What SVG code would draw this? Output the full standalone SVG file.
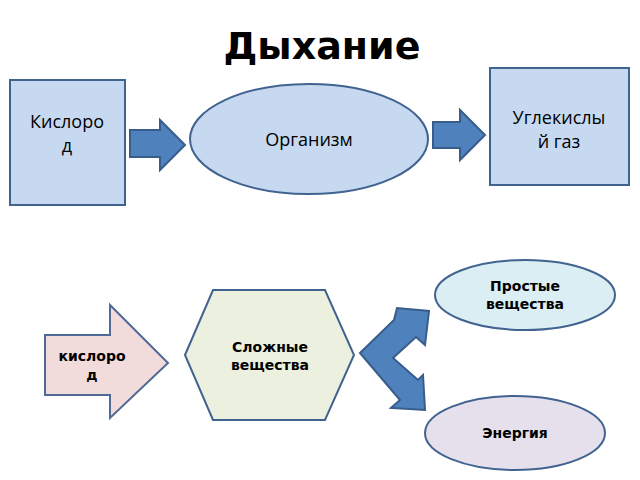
<svg xmlns="http://www.w3.org/2000/svg" width="640" height="480" viewBox="0 0 640 480">
<style>
.s{stroke:#41638f;stroke-width:2}
.t{font-family:"Open Sans","DejaVu Sans",sans-serif;font-size:18px;fill:#000;text-anchor:middle}
.b{font-family:"DejaVu Sans",sans-serif;font-size:14px;font-weight:bold;fill:#000;text-anchor:middle}
.ar{fill:#4f81bd;stroke:#385d8a;stroke-width:2}
</style>
<rect width="640" height="480" fill="#fff"/>
<text x="322" y="59" font-family="DejaVu Sans,sans-serif" font-size="38" font-weight="bold" text-anchor="middle">Дыхание</text>
<g id="kislorod"><rect x="10" y="80" width="115" height="125" fill="#c6d9f1" class="s"/><text class="t" x="67" y="128">Кислоро</text><text class="t" x="67" y="152">д</text></g>
<g id="organizm"><ellipse cx="309" cy="139" rx="119" ry="55" fill="#c6d9f1" class="s"/><text class="t" x="309" y="146">Организм</text></g>
<g id="ugl"><rect x="490" y="68" width="139" height="117" fill="#c6d9f1" class="s"/><text class="t" x="559" y="124">Углекислы</text><text class="t" x="559" y="148">й газ</text></g>
<g id="hex"><polygon points="185,355 213,290 325,290 354,355 325,420 213,420" fill="#ebf1de" class="s"/><text class="b" x="270" y="352">Сложные</text><text class="b" x="270" y="370">вещества</text></g>
<g id="prostye"><ellipse cx="525" cy="295" rx="90" ry="35" fill="#dbeef4" class="s"/><text class="b" x="525" y="291">Простые</text><text class="b" x="525" y="309">вещества</text></g>
<g id="energiya"><ellipse cx="515" cy="433" rx="90" ry="37" fill="#e6e0ec" class="s"/><text class="b" x="515" y="438">Энергия</text></g>
<g id="kislorod2"><polygon points="45,335 110,335 110,305 168,363 110,418 110,395 45,395" fill="#f2dcdb" stroke="#4f6a95" stroke-width="2"/><text class="b" x="92" y="361">кислоро</text><text class="b" x="92" y="380">д</text></g>
<g id="connectors">
<polygon class="ar" points="130,130 160,130 160,120 185,145 160,170 160,157 130,157"/>
<polygon class="ar" points="433,122 460,122 460,110 485,135 460,160 460,148 433,148"/>
<polygon class="ar" points="360,353 394,320 397,308 429,311 425,345 416,337 393,358 418,380 423,375 425,410 391,408 400,400"/>
</g>
</svg>
